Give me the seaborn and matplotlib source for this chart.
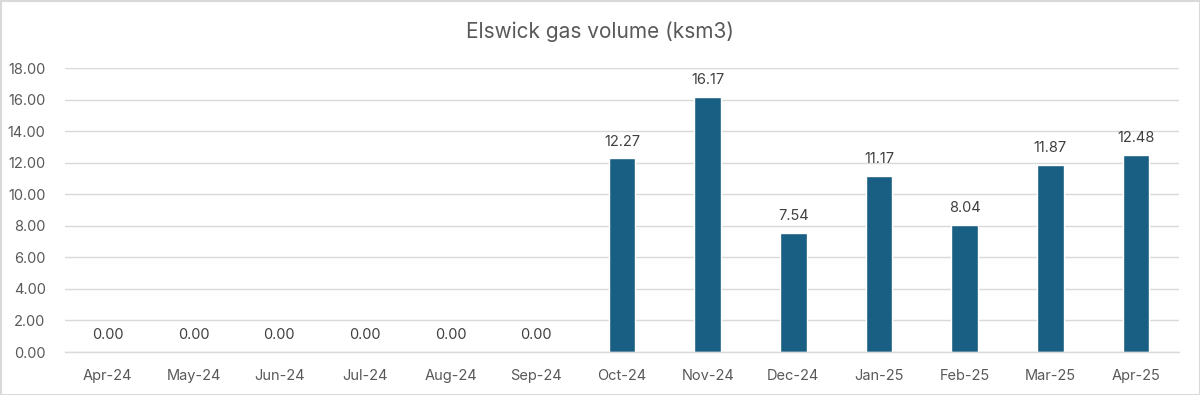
import matplotlib
matplotlib.use("Agg")
import matplotlib.pyplot as plt
import seaborn as sns
import numpy as np
import pandas as pd
from matplotlib.patches import Rectangle

months = ["Apr-24", "May-24", "Jun-24", "Jul-24", "Aug-24", "Sep-24", "Oct-24",
          "Nov-24", "Dec-24", "Jan-25", "Feb-25", "Mar-25", "Apr-25"]
volumes = [0.00, 0.00, 0.00, 0.00, 0.00, 0.00, 12.27, 16.17, 7.54, 11.17, 8.04, 11.87, 12.48]
yticks = [0, 2, 4, 6, 8, 10, 12, 14, 16, 18]
title = "Elswick gas volume (ksm3)"

sns.set_theme(style="white")
plt.rcParams['font.family'] = ['Inter', 'DejaVu Sans']

text_col = "#595959"
grid_col = "#d9d9d9"
bar_col = "#195e83"

df = pd.DataFrame({"month": months, "volume": volumes})

fig = plt.figure(figsize=(12, 3.95), dpi=100)
ax = fig.add_axes([65/1200, 1-352/395, (1179-65)/1200, (352-68)/395])

sns.barplot(data=df, x="month", y="volume", color=bar_col, width=0.31,
            saturation=1, ax=ax, zorder=3)

ax.set_ylim(0, 18)
ax.set_xlim(-0.5, len(months)-0.5)
ax.set_yticks(yticks)
ax.set_yticklabels([f"{v:.2f}" for v in yticks], color=text_col, fontsize=10.5)
ax.set_xticks(range(len(months)))
ax.set_xticklabels(months, color=text_col, fontsize=10.5)
ax.set_xticks(np.arange(-0.5, len(months), 1), minor=True)
ax.tick_params(axis="x", which="major", length=0, pad=12)
ax.tick_params(axis="x", which="minor", length=5, color=grid_col, width=1)
ax.tick_params(axis="y", length=0, pad=14)
ax.set_xlabel("")
ax.set_ylabel("")
ax.grid(axis="y", color=grid_col, linewidth=1, zorder=0)
for s in ["top", "right", "left"]:
    ax.spines[s].set_visible(False)
ax.spines["bottom"].set_color(grid_col)
ax.spines["bottom"].set_linewidth(1)
ax.spines["bottom"].set_zorder(4)

for i, v in enumerate(volumes):
    ax.annotate(f"{v:.2f}", (i, v), xytext=(0, 7), textcoords="offset points",
                ha="center", va="bottom", color="#404040", fontsize=10.5)

fig.text(0.5, 1-32/395, title, ha="center", va="center", color=text_col, fontsize=15)

fig.patches.append(Rectangle((0.5/1200, 0.5/395), 1-1/1200, 1-1/395, transform=fig.transFigure,
                             fill=False, edgecolor=grid_col, linewidth=1.5))

fig.savefig("out.png", dpi=100, facecolor="white")
